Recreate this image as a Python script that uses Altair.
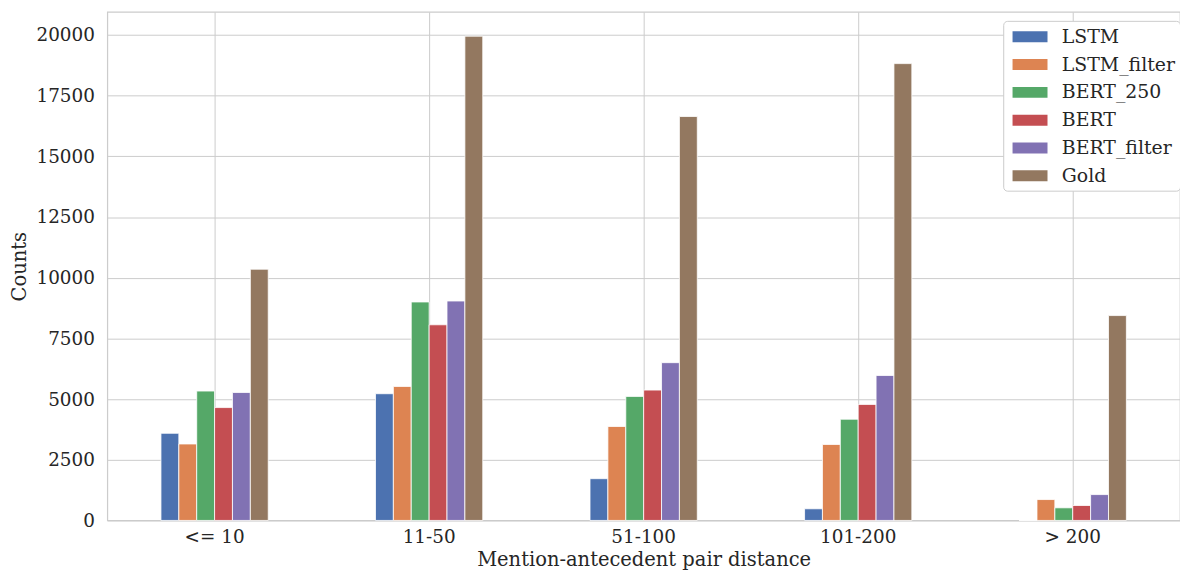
import altair as alt
import pandas as pd

categories = ["<= 10", "11-50", "51-100", "101-200", "> 200"]
models = ["LSTM", "LSTM_filter", "BERT_250", "BERT", "BERT_filter", "Gold"]
colors = ["#4C72B0", "#DD8452", "#55A868", "#C44E52", "#8172B3", "#937860"]

lstm = [3590, 5220, 1720, 480, 0]
lstm_filter = [3150, 5520, 3870, 3130, 860]
bert_250 = [5330, 9000, 5110, 4170, 520]
bert = [4650, 8060, 5370, 4780, 615]
bert_filter = [5270, 9040, 6500, 5970, 1065]
gold = [10350, 19950, 16640, 18820, 8440]

series = [lstm, lstm_filter, bert_250, bert, bert_filter, gold]
rows = []
for m, vals in zip(models, series):
    for c, v in zip(categories, vals):
        rows.append({"distance": c, "model": m, "count": v})
df = pd.DataFrame(rows)

FONT = "DejaVu Serif"
y_ticks = [0, 2500, 5000, 7500, 10000, 12500, 15000, 17500, 20000]

chart = alt.Chart(df).mark_bar(stroke="white", strokeWidth=0.8).encode(
    x=alt.X(
        "distance:N",
        sort=categories,
        scale=alt.Scale(paddingInner=0.5, paddingOuter=0.25),
        axis=alt.Axis(
            title="Mention-antecedent pair distance",
            labelAngle=0,
            grid=True,
            bandPosition=0.5,
            ticks=False,
            domain=False,
            labelPadding=7,
            titleY=45,
            titleBaseline="alphabetic",
        ),
    ),
    xOffset=alt.XOffset(
        "model:N", sort=models, scale=alt.Scale(paddingInner=0, paddingOuter=0)
    ),
    y=alt.Y(
        "count:Q",
        scale=alt.Scale(domain=[0, 20950], nice=False),
        axis=alt.Axis(
            title="Counts",
            values=y_ticks,
            format="d",
            ticks=False,
            domain=False,
            labelPadding=13,
            titleX=-82,
            titleBaseline="alphabetic",
        ),
    ),
    color=alt.Color(
        "model:N",
        sort=models,
        scale=alt.Scale(domain=models, range=colors),
        legend=alt.Legend(
            title=None,
            orient="none",
            legendX=902,
            legendY=9,
            symbolType="M-1.6,-0.5H1.6V0.5H-1.6Z",
            symbolSize=484,
            symbolStrokeWidth=0,
            symbolOffset=11,
            labelOffset=21,
            rowPadding=7,
            padding=5,
            labelFontSize=19,
            labelFont=FONT,
            labelColor="#262626",
            strokeColor="#cccccc",
            fillColor="white",
            cornerRadius=4,
        ),
    ),
).properties(
    width=1080,
    height=512,
    background="white",
    autosize=alt.AutoSizeParams(type="none"),
    padding={"left": 100, "top": 2, "right": 0, "bottom": 53},
).configure_view(
    stroke="#cccccc", strokeWidth=1.25
).configure_axis(
    labelFont=FONT,
    titleFont=FONT,
    labelFontSize=18.5,
    titleFontSize=19.6,
    titleFontWeight="normal",
    labelColor="#262626",
    titleColor="#262626",
    gridColor="#cccccc",
    gridWidth=1,
)

chart.save("out.html", embed_options={"renderer": "svg", "actions": False})
